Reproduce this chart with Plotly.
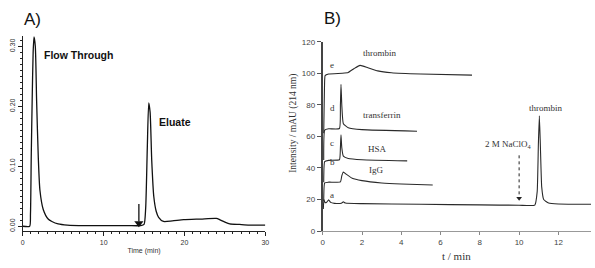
import plotly.graph_objects as go

# ---------------- Panel A data (time in min, absorbance) ----------------
a_time = [0, 0.85, 0.95, 1.05, 1.16, 1.28, 1.39, 1.55, 1.71, 1.92, 2.12, 2.53, 3.14, 3.6, 4.37, 5.5, 7.6, 10, 13, 14.6,
          15.0, 15.2, 15.4, 15.58, 15.75, 15.95, 16.2, 16.5, 16.8, 17.4, 18.5, 19.9, 22, 23.95, 24.35, 25.0, 25.6, 26.8, 28, 30]
a_abs = [0.0, 0.0, 0.02, 0.12, 0.21, 0.29, 0.316, 0.30, 0.21, 0.114, 0.06, 0.028, 0.012, 0.008, 0.004, 0.002, 0.001, 0.001, 0.001, 0.001,
         0.003, 0.03, 0.13, 0.206, 0.19, 0.11, 0.05, 0.025, 0.015, 0.008, 0.009, 0.011, 0.012, 0.013, 0.011, 0.007, 0.004, 0.003, 0.002, 0.002]
arrow_A_t = 14.36
arrow_A_top = 0.037

# ---------------- Panel B data (t / min, intensity mAU) ----------------
e_t = [0.05, 0.1, 0.12, 0.3, 1.0, 1.3, 1.6, 1.9, 2.3, 2.8, 3.5, 5.0, 7.6]
e_y = [62, 96, 98.5, 99.5, 100, 100.5, 103, 105, 103.5, 101.5, 100.3, 99.5, 98.8]

d_t = [0.05, 0.1, 0.3, 0.85, 0.9, 0.93, 0.97, 1.05, 1.3, 2.0, 4.8]
d_y = [45, 64, 64.8, 65, 80, 93, 80, 68, 65.5, 64.3, 63.3]

c_t = [0.05, 0.1, 0.3, 0.85, 0.9, 0.93, 0.97, 1.05, 1.3, 2.0, 4.3]
c_y = [31, 44, 44.8, 45.2, 53, 61, 53, 47.5, 46, 45.2, 44.5]

b_t = [0.05, 0.1, 0.3, 0.9, 0.97, 1.05, 1.2, 1.5, 2.0, 3.0, 4.0, 5.6]
b_y = [19, 30.5, 31, 31.2, 35, 37.4, 36, 33.5, 32, 30.5, 29.8, 29.2]

a_t = [0.03, 0.06, 0.12, 0.2, 0.3, 0.4, 0.6, 0.95, 1.05, 1.15, 2, 5, 8, 10, 10.8, 10.92, 10.98, 11.03, 11.08, 11.15, 11.25, 11.5, 12, 13.66]
a_y = [14, 20, 18, 18.3, 19.8, 18.2, 17.6, 17.7, 18.5, 17.8, 17.4, 17.0, 16.6, 16.4, 16.5, 25, 55, 73, 55, 28, 20, 17.8, 17.2, 17.0]

trace_labels = ["e", "d", "c", "b", "a"]
label_y = [105, 78, 56, 44, 23]
protein_names = ["thrombin", "transferrin", "HSA", "IgG"]
protein_t = [2.9, 3.0, 2.8, 2.7]
protein_y = [113, 73.5, 52, 38.5]
arrow_B_t = 10
arrow_B_top = 48
arrow_B_tip = 20.8

A_xticks = [0, 10, 20, 30]
A_yticks = [0.0, 0.1, 0.2, 0.3]
A_yticklabels = ["0.00", "0.10", "0.20", "0.30"]
B_xticks = [0, 2, 4, 6, 8, 10, 12]
B_yticks = [0, 20, 40, 60, 80, 100, 120]

W, H = 595, 268
def py(px):
    return 1 - px / H

fig = go.Figure()

fig.add_trace(go.Scatter(x=a_time, y=a_abs, mode="lines", xaxis="x", yaxis="y",
                         line=dict(color="#111", width=1.3, shape="spline", smoothing=0.6),
                         showlegend=False, hoverinfo="skip"))
# solid arrow in panel A
fig.add_trace(go.Scatter(x=[arrow_A_t, arrow_A_t], y=[arrow_A_top, 0.008], mode="lines", xaxis="x", yaxis="y",
                         line=dict(color="#111", width=1.3), showlegend=False, hoverinfo="skip"))
fig.add_trace(go.Scatter(x=[arrow_A_t], y=[0.005], mode="markers", xaxis="x", yaxis="y",
                         marker=dict(symbol="triangle-down", size=8, color="#111"),
                         showlegend=False, hoverinfo="skip"))

for tt, yy in [(e_t, e_y), (d_t, d_y), (c_t, c_y), (b_t, b_y), (a_t, a_y)]:
    fig.add_trace(go.Scatter(x=tt, y=yy, mode="lines", xaxis="x2", yaxis="y2",
                             line=dict(color="#2a2a2a", width=1.1, shape="spline", smoothing=0.4),
                             showlegend=False, hoverinfo="skip"))

# dashed arrow for NaClO4
fig.add_trace(go.Scatter(x=[arrow_B_t, arrow_B_t], y=[arrow_B_top, arrow_B_tip + 1.5], mode="lines", xaxis="x2", yaxis="y2",
                         line=dict(color="#222", width=1, dash="dot"), showlegend=False, hoverinfo="skip"))
fig.add_trace(go.Scatter(x=[arrow_B_t], y=[arrow_B_tip], mode="markers", xaxis="x2", yaxis="y2",
                         marker=dict(symbol="triangle-down", size=5, color="#222"),
                         showlegend=False, hoverinfo="skip"))

sans = "Liberation Sans, Arial, sans-serif"
serif = "Liberation Serif, Times New Roman, serif"

layout = dict(
    width=W, height=H, margin=dict(l=0, r=0, t=0, b=0),
    paper_bgcolor="white", plot_bgcolor="white",
    xaxis=dict(domain=[21 / W, 266 / W], range=[0, 30], anchor="y",
               tickvals=A_xticks, ticks="outside", ticklen=4, tickcolor="#222",
               showline=True, linecolor="#222", linewidth=1, showgrid=False, zeroline=False,
               tickfont=dict(family=sans, size=7, color="#333"),
               minor=dict(dtick=1, ticks="outside", ticklen=2, tickcolor="#222"),
               title=dict(text="Time (min)", font=dict(family=sans, size=7, color="#333"), standoff=3)),
    yaxis=dict(domain=[py(235), py(33)], range=[-0.0081, 0.3177], anchor="x",
               tickvals=A_yticks, ticktext=A_yticklabels, tickangle=-90,
               ticks="outside", ticklen=4, tickcolor="#222",
               showline=True, linecolor="#222", linewidth=1, showgrid=False, zeroline=False,
               tickfont=dict(family=sans, size=7, color="#333"),
               minor=dict(dtick=0.01, ticks="outside", ticklen=2, tickcolor="#222")),
    xaxis2=dict(domain=[324 / W, 1.0], range=[0, 13.66], anchor="y2",
                tickvals=B_xticks, ticks="outside", ticklen=3, tickcolor="#888",
                showline=True, linecolor="#999", linewidth=1, showgrid=False, zeroline=False,
                tickfont=dict(family=sans, size=8, color="#444")),
    yaxis2=dict(domain=[py(235), py(39)], range=[0, 120], anchor="x2",
                tickvals=B_yticks, ticks="outside", ticklen=4, tickcolor="#555",
                showline=True, linecolor="#444", linewidth=2, showgrid=False, zeroline=False,
                tickfont=dict(family=sans, size=8, color="#444")),
)
fig.update_layout(**layout)

ann = []
ann.append(dict(text="A)", x=20 / W, y=py(16), xref="paper", yref="paper", xanchor="left", yanchor="middle",
                showarrow=False, font=dict(family=sans, size=17, color="#111")))
ann.append(dict(text="B)", x=323 / W, y=py(15), xref="paper", yref="paper", xanchor="left", yanchor="middle",
                showarrow=False, font=dict(family=sans, size=17, color="#111")))
ann.append(dict(text="<b>Flow Through</b>", x=2.4, y=0.285, xref="x", yref="y", xanchor="left", yanchor="middle",
                showarrow=False, font=dict(family=sans, size=10.5, color="#111")))
ann.append(dict(text="<b>Eluate</b>", x=16.6, y=0.174, xref="x", yref="y", xanchor="left", yanchor="middle",
                showarrow=False, font=dict(family=sans, size=10.5, color="#111")))

ann.append(dict(text="Intensity / mAU (214 nm)", x=295 / W, y=py(124), xref="paper", yref="paper",
                textangle=-90, showarrow=False, xanchor="center", yanchor="middle",
                font=dict(family=serif, size=9.5, color="#333")))
ann.append(dict(text="t / min", x=459 / W, y=py(261), xref="paper", yref="paper",
                showarrow=False, xanchor="center", yanchor="middle",
                font=dict(family=serif, size=11, color="#333")))

for lab, ly in zip(trace_labels, label_y):
    ann.append(dict(text=lab, x=0.48, y=ly, xref="x2", yref="y2", showarrow=False,
                    xanchor="center", yanchor="middle", font=dict(family=serif, size=9, color="#333")))
for name, nt, ny in zip(protein_names, protein_t, protein_y):
    ann.append(dict(text=name, x=nt, y=ny, xref="x2", yref="y2", showarrow=False,
                    xanchor="center", yanchor="middle", font=dict(family=serif, size=9, color="#333")))
ann.append(dict(text="thrombin", x=11.35, y=78, xref="x2", yref="y2", showarrow=False,
                xanchor="center", yanchor="middle", font=dict(family=serif, size=9, color="#333")))
ann.append(dict(text="2 M NaClO<sub>4</sub>", x=9.45, y=55, xref="x2", yref="y2", showarrow=False,
                xanchor="center", yanchor="middle", font=dict(family=serif, size=9, color="#333")))

fig.update_layout(annotations=ann)
fig.write_html("out.html")
